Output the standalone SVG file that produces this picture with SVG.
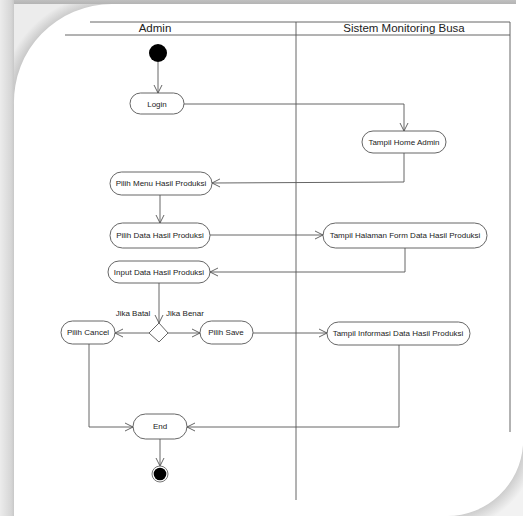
<svg xmlns="http://www.w3.org/2000/svg" width="523" height="516" viewBox="0 0 523 516">
<defs>
<linearGradient id="gl" x1="0" y1="0" x2="1" y2="0">
<stop offset="0" stop-color="#ececec"/><stop offset="0.8" stop-color="#d6d6d6"/><stop offset="1" stop-color="#c8c8c8"/>
</linearGradient>
<linearGradient id="gt" x1="0" y1="0" x2="0" y2="1">
<stop offset="0" stop-color="#c0c0c0"/><stop offset="1" stop-color="#b4b4b4"/>
</linearGradient>
<radialGradient id="gtl" cx="112" cy="105" r="112" gradientUnits="userSpaceOnUse">
<stop offset="0.85" stop-color="#bdbdbd"/><stop offset="1" stop-color="#ececec"/>
</radialGradient>
<radialGradient id="gbr" cx="447" cy="440" r="90" gradientUnits="userSpaceOnUse">
<stop offset="0.82" stop-color="#c8c8c8"/><stop offset="1" stop-color="#f2f2f2"/>
</radialGradient>
<marker id="ar" markerWidth="10" markerHeight="10" refX="9" refY="5" orient="auto" markerUnits="userSpaceOnUse">
<path d="M1,1 L9,5 L1,9" fill="none" stroke="#555" stroke-width="0.9"/>
</marker>
<style>
.act{fill:#fff;stroke:#555;stroke-width:0.9}
.t{font-family:"Liberation Sans",Arial,sans-serif;font-size:8px;fill:#222;text-anchor:middle}
.h{font-family:"Liberation Sans",Arial,sans-serif;font-size:11.5px;fill:#222;text-anchor:middle}
.ln{fill:none;stroke:#555;stroke-width:0.9}
.ca{fill:none;stroke:#555;stroke-width:0.9;marker-end:url(#ar)}
</style>
</defs>
<!-- page background -->
<rect x="0" y="0" width="523" height="516" fill="#ffffff"/>
<rect x="0" y="0" width="120" height="120" fill="url(#gtl)"/>
<rect x="0" y="0" width="516" height="4" fill="url(#gt)"/>
<rect x="0" y="0" width="14" height="516" fill="url(#gl)"/>
<rect x="430" y="420" width="93" height="96" fill="url(#gbr)"/>
<path d="M14,516 L14,105 A98,98 0 0 1 112,4 L523,4 L523,445 A76,76 0 0 1 447,516 Z" fill="#ffffff"/>

<!-- swimlanes -->
<g id="swimlanes" class="ln">
<line x1="90" y1="22" x2="510" y2="22"/>
<line x1="65" y1="35" x2="510" y2="35"/>
<line x1="296" y1="22" x2="296" y2="500"/>
<line x1="510" y1="22" x2="510" y2="432"/>
</g>
<text class="h" x="155" y="32">Admin</text>
<text class="h" x="404" y="32">Sistem Monitoring Busa</text>

<g id="connectors">
<line class="ca" x1="158" y1="62" x2="158" y2="93"/>
<polyline class="ca" points="184,104 404,104 404,131"/>
<polyline class="ca" points="404,153 404,182 212,183"/>
<line class="ca" x1="160" y1="195" x2="160" y2="223"/>
<line class="ca" x1="210" y1="235" x2="323" y2="235"/>
<polyline class="ca" points="405,248 405,272 210,272"/>
<line class="ca" x1="159" y1="283" x2="159" y2="323"/>
<line class="ca" x1="149" y1="333" x2="115" y2="333"/>
<line class="ca" x1="168" y1="333" x2="200" y2="333"/>
<line class="ca" x1="253" y1="333" x2="327" y2="333"/>
<polyline class="ca" points="399,345 399,427 187,427"/>
<polyline class="ca" points="89,344 89,427 133,427"/>
<line class="ca" x1="160" y1="439" x2="160" y2="466"/>
</g>
<text class="t" x="133" y="316">Jika Batal</text>
<text class="t" x="185" y="316">Jika Benar</text>

<g id="start"><circle cx="158" cy="53" r="9" fill="#000"/></g>
<g id="login"><rect class="act" x="130" y="93" width="54" height="21" rx="10.5"/><text class="t" x="157" y="107">Login</text></g>
<g id="home"><rect class="act" x="362" y="131" width="84" height="22" rx="11"/><text class="t" x="404" y="145">Tampil Home Admin</text></g>
<g id="menu"><rect class="act" x="110" y="172" width="102" height="23" rx="11.5"/><text class="t" x="161" y="186">Pilih Menu Hasil Produksi</text></g>
<g id="pilihdata"><rect class="act" x="110" y="223" width="100" height="25" rx="12.5"/><text class="t" x="160" y="238">Pilih Data Hasil Produksi</text></g>
<g id="form"><rect class="act" x="323" y="223" width="164" height="25" rx="12.5"/><text class="t" x="405" y="238">Tampil Halaman Form Data Hasil Produksi</text></g>
<g id="input"><rect class="act" x="108" y="261" width="102" height="22" rx="11"/><text class="t" x="159" y="275">Input Data Hasil Produksi</text></g>
<g id="decision"><polygon class="act" points="159,323 168,333 159,342 149,333"/></g>
<g id="cancel"><rect class="act" x="61" y="321" width="54" height="23" rx="11.5"/><text class="t" x="88" y="335">Pilih Cancel</text></g>
<g id="save"><rect class="act" x="200" y="321" width="53" height="23" rx="11.5"/><text class="t" x="226" y="335">Pilih Save</text></g>
<g id="info"><rect class="act" x="327" y="322" width="143" height="23" rx="11.5"/><text class="t" x="398" y="336">Tampil Informasi Data Hasil Produksi</text></g>
<g id="endact"><rect class="act" x="133" y="414" width="54" height="25" rx="12.5"/><text class="t" x="160" y="429">End</text></g>
<g id="final"><circle cx="160" cy="474" r="8" fill="#fff" stroke="#777" stroke-width="1"/><circle cx="160" cy="474" r="6.3" fill="#000"/></g>
</svg>
